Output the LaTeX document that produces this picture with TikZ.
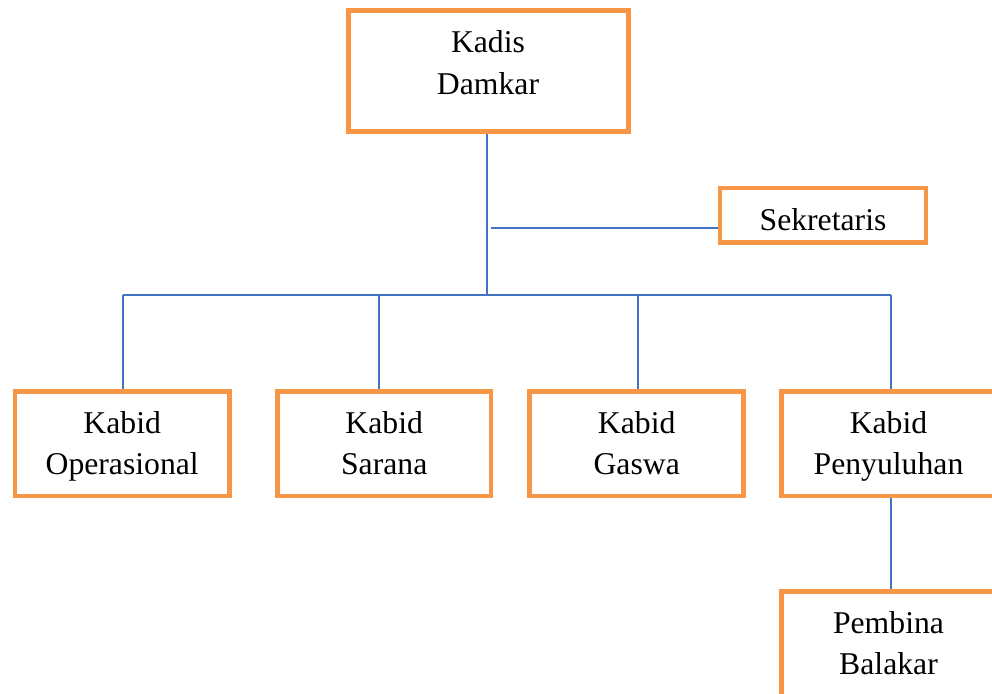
\documentclass[tikz,border=0pt]{standalone}
\usepackage{fontspec}
\setmainfont{Liberation Serif}
\usetikzlibrary{backgrounds}
\definecolor{boxorange}{HTML}{F79646}
\definecolor{lineblue}{HTML}{4472C4}
\begin{document}
\begin{tikzpicture}[x=1pt,y=-1pt,
  orgbox/.style={draw=boxorange,line width=4.7pt,fill=white,inner sep=0pt,rectangle},
  conn/.style={draw=lineblue,line width=1.8pt},
  txt/.style={anchor=base,inner sep=0pt,font=\fontsize{31.7}{38}\selectfont}]
\useasboundingbox (0,0) rectangle (992,693);
\clip (0,0) rectangle (992,693);
% junction coordinates
\coordinate (kj) at (486.7,295);
\coordinate (sj) at (491,228.3);
\coordinate (b1) at (123.3,295);
\coordinate (b2) at (379,295);
\coordinate (b3) at (638,295);
\coordinate (b4) at (891,295);
% boxes
\node[orgbox,minimum width=280,minimum height=121.2] (kadis) at (488.3,71) {};
\node[orgbox,minimum width=206,minimum height=54.6] (sek) at (823,215.3) {};
\node[orgbox,minimum width=214.3,minimum height=104.3] (op) at (122.2,443.8) {};
\node[orgbox,minimum width=213.6,minimum height=104.3] (sar) at (384.2,443.8) {};
\node[orgbox,minimum width=214,minimum height=104.3] (gas) at (636.7,443.8) {};
\node[orgbox,minimum width=214,minimum height=104.3] (pyl) at (888.5,443.8) {};
\node[orgbox,minimum width=214,minimum height=104.3] (pem) at (888.5,643.8) {};
% connectors, behind the boxes
\begin{pgfonlayer}{background}
\draw[conn] (kj |- kadis.south) -- (kj);
\draw[conn] (sj) -- (sj -| sek.west);
\draw[conn] (b1) -- (b4);
\draw[conn] (b1) -- (b1 |- op.north);
\draw[conn] (b2) -- (b2 |- sar.north);
\draw[conn] (b3) -- (b3 |- gas.north);
\draw[conn] (b4) -- (b4 |- pyl.north);
\draw[conn] (b4 |- pyl.south) -- (b4 |- pem.north);
\end{pgfonlayer}
% texts
\node[txt] (kadisT1) at (488,52.3) {Kadis};
\node[txt] (kadisT2) at (488,94.3) {Damkar};
\node[txt] (sekT) at (823,230) {Sekretaris};
\node[txt] (opT1) at (122.2,433.5) {Kabid};
\node[txt] (opT2) at (122.2,474.5) {Operasional};
\node[txt] (sarT1) at (384.2,433.5) {Kabid};
\node[txt] (sarT2) at (384.2,474.5) {Sarana};
\node[txt] (gasT1) at (636.7,433.5) {Kabid};
\node[txt] (gasT2) at (636.7,474.5) {Gaswa};
\node[txt] (pylT1) at (888.5,433.5) {Kabid};
\node[txt] (pylT2) at (888.5,474.5) {Penyuluhan};
\node[txt] (pemT1) at (888.5,633.3) {Pembina};
\node[txt] (pemT2) at (888.5,674) {Balakar};
\end{tikzpicture}
\end{document}
